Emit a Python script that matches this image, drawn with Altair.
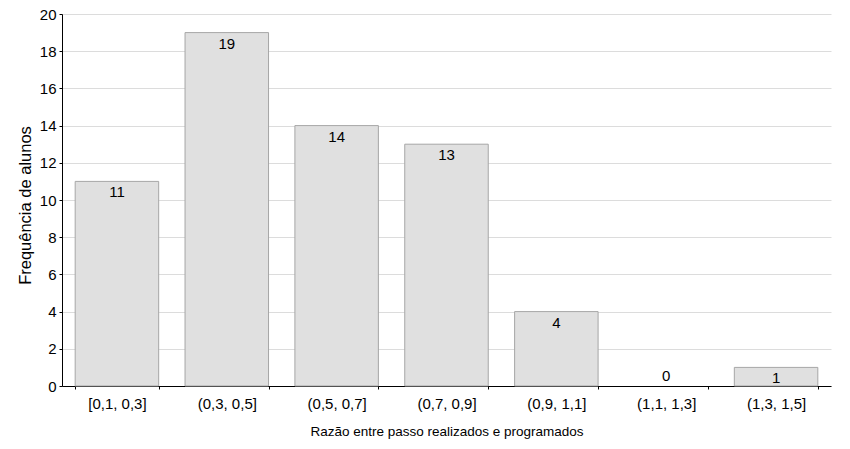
import altair as alt
import pandas as pd

categories = ["[0,1, 0,3]", "(0,3, 0,5]", "(0,5, 0,7]", "(0,7, 0,9]", "(0,9, 1,1]", "(1,1, 1,3]", "(1,3, 1,5]"]
values = [11, 19, 14, 13, 4, 0, 1]
y_ticks = [0, 2, 4, 6, 8, 10, 12, 14, 16, 18, 20]

df = pd.DataFrame({"cat": categories, "val": values})

FONT = "Liberation Sans"

x_axis = alt.Axis(title="Razão entre passo realizados e programados",
                  labelAngle=0, tickBand="extent", tickSize=3,
                  labelPadding=7, titlePadding=13, grid=False,
                  titleFontSize=13.5, labelOverlap=False)
y_axis = alt.Axis(title="Frequência de alunos", values=y_ticks, tickCount=11,
                  tickSize=3, labelPadding=3, titlePadding=6, grid=True,
                  labelOverlap=False, titleFontSize=16.5, titleY=191)

base = alt.Chart(df).encode(
    x=alt.X("cat:N", sort=categories,
            scale=alt.Scale(paddingInner=0.24, paddingOuter=0.12), axis=x_axis),
    y=alt.Y("val:Q", scale=alt.Scale(domain=[0, 20], nice=False), axis=y_axis),
)

bars = base.mark_bar(color="#e0e0e0", stroke="#a6a6a6", strokeWidth=1).encode(
    strokeOpacity=alt.condition("datum.val > 0", alt.value(1), alt.value(0))
)

labels = base.transform_filter("datum.val > 0").mark_text(
    baseline="top", dy=4, fontSize=15, font=FONT, color="black"
).encode(text="val:Q")

zero_labels = base.transform_filter("datum.val == 0").mark_text(
    baseline="bottom", dy=-2, fontSize=15, font=FONT, color="black"
).encode(text="val:Q")

chart = alt.layer(bars, labels, zero_labels).properties(
    width=769, height=372,
    autosize=alt.AutoSizeParams(type="none"),
    padding={"left": 54, "top": 6, "right": 10, "bottom": 55},
    background="white"
).configure_view(stroke=None).configure_axis(
    domainColor="black", tickColor="black", labelColor="black", titleColor="black",
    labelFont=FONT, titleFont=FONT, labelFontSize=15, titleFontSize=15,
    titleFontWeight="normal", gridColor="#dcdcdc", gridWidth=1
)

chart.save("out.html", embed_options={"renderer": "svg", "actions": False})
